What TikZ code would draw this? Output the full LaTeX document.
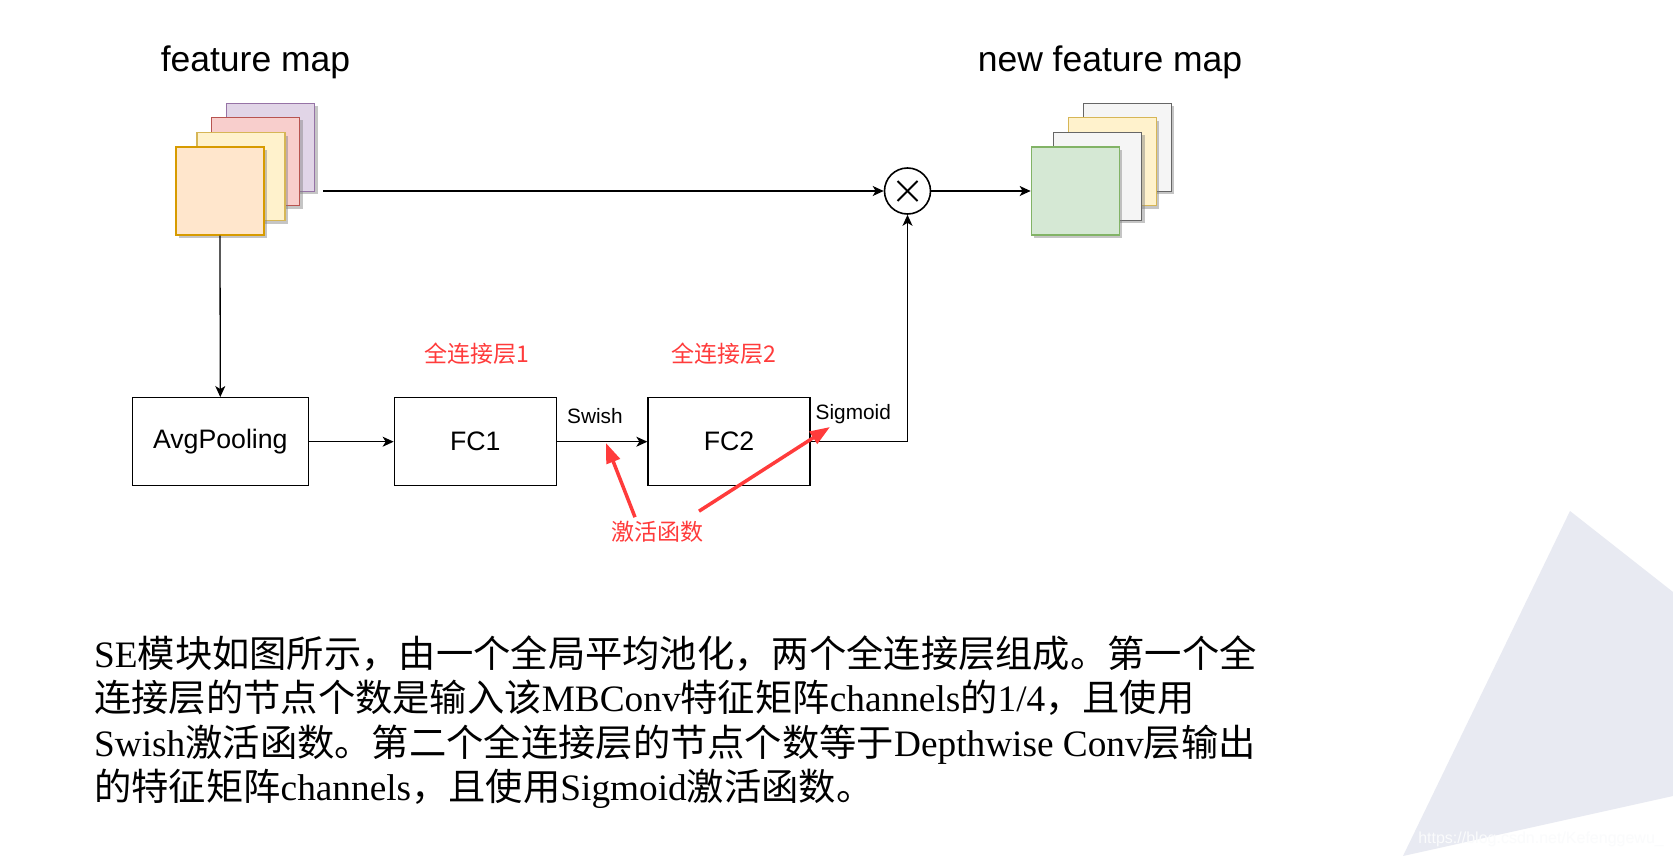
\documentclass[tikz,border=0pt]{standalone}
\usepackage{fontspec}
\setmainfont{Liberation Serif}
\newfontfamily\sansf{Liberation Sans}
\newfontfamily\cjk{Noto Sans CJK SC}
\usetikzlibrary{arrows.meta,positioning,calc,shadows}
\definecolor{orangefill}{HTML}{FFE6CC}
\definecolor{orangeline}{HTML}{D79B00}
\definecolor{yellowfill}{HTML}{FFF2CC}
\definecolor{yellowline}{HTML}{D6B656}
\definecolor{redfill}{HTML}{F8CECC}
\definecolor{redline}{HTML}{B85450}
\definecolor{purplefill}{HTML}{E1D5E7}
\definecolor{purpleline}{HTML}{9673A6}
\definecolor{greenfill}{HTML}{D5E8D4}
\definecolor{greenline}{HTML}{82B366}
\definecolor{greyfill}{HTML}{F5F5F5}
\definecolor{greyline}{HTML}{666666}
\definecolor{annot}{HTML}{FF3B3B}
\definecolor{wmark}{HTML}{E8EAF2}
\newcommand{\zhtext}[1]{{\cjk #1}}

\begin{document}
\begin{tikzpicture}[x=1pt,y=-1pt,
 fmap/.style={draw,line width=1.3pt,minimum size=88pt,inner sep=0pt,
  drop shadow={shadow xshift=3pt,shadow yshift=-3pt,fill=gray,opacity=.45}},
 layer/.style={draw,line width=1.3pt,minimum width=176pt,minimum height=88pt,font=\sansf\fontsize{26.7}{32}\selectfont},
 fclayer/.style={layer,minimum width=162pt},
 title/.style={font=\sansf\fontsize{35.5}{42}\selectfont},
 actname/.style={font=\sansf\fontsize{20.8}{25}\selectfont,inner sep=2pt},
 redlab/.style={text=annot,font=\cjk\fontsize{23}{28}\selectfont,inner sep=2pt},
 body/.style={anchor=base west,inner sep=0pt,font=\fontsize{37.3}{45}\selectfont},
 arr/.style={-{Stealth[length=11pt,width=10pt,inset=3pt]},line width=1.3pt},
 annarr/.style={annot,line width=3.5pt,-{Triangle[length=20pt,width=14pt]}}]
\useasboundingbox (0,0) rectangle (1673,856);
\fill[white] (0,0) rectangle (1673,856);
% watermark corner
\fill[wmark] (1570,511) -- (1673,592) -- (1673,796) -- (1403,856) -- cycle;
\node[anchor=base east,inner sep=0pt,text=white!80!wmark,font=\sansf\fontsize{16}{18}\selectfont] (wm) at (1664,843) {https://blog.csdn.net/Kefenggewu\_};

% input feature map
\node[title,anchor=base] (fmtitle) at (255.5,71.7) {feature map};
\node[fmap,fill=purplefill,draw=purpleline] (fm4) at (270.5,147.2) {};
\node[fmap,fill=redfill,draw=redline] (fm3) at (255.5,161.5) {};
\node[fmap,fill=yellowfill,draw=yellowline] (fm2) at (241,176.7) {};
\node[fmap,fill=orangefill,draw=orangeline] (fm1) at (220,191) {};

% output feature map
\node[title,anchor=base] (nfmtitle) at (1110,71.7) {new feature map};
\node[fmap,fill=greyfill,draw=greyline] (nfm4) at (1127.2,147.2) {};
\node[fmap,fill=yellowfill,draw=yellowline] (nfm3) at (1112.3,161.7) {};
\node[fmap,fill=greyfill,draw=greyline] (nfm2) at (1097.7,176.3) {};
\node[fmap,fill=greenfill,draw=greenline] (nfm1) at (1075.3,191) {};

% multiply
\node[circle,draw,line width=1.6pt,minimum size=46pt,inner sep=0pt] (mul) at (907.5,191) {};
\draw[line width=1.8pt] ($(mul.center)+(-10,-10)$) -- ($(mul.center)+(10,10)$);
\draw[line width=1.8pt] ($(mul.center)+(-10,10)$) -- ($(mul.center)+(10,-10)$);

% SE branch
\node[layer] (avg) at (220.3,441.7) {AvgPooling};
\node[fclayer] (fc1) at (475.3,441.7) {FC1};
\node[fclayer] (fc2) at (729,441.7) {FC2};
\node[redlab] (fc1lab) at (477,354) {全连接层1};
\node[redlab] (fc2lab) at (724,354) {全连接层2};

\coordinate (fmout) at (323,191);
\draw[arr] (fmout) -- (mul);
\draw[arr] (mul) -- (nfm1);
\draw[arr] (fm1.south) -- (avg.north);
\draw[arr] (avg) -- (fc1);
\draw[arr] (fc1) -- node[actname,above=15pt,pos=.42] (swish) {Swish} (fc2);
\draw[arr] (fc2.east) -| node[actname,above=15pt,pos=.22] (sigm) {Sigmoid} (mul.south);

% activation note
\node[redlab] (act) at (657,532) {激活函数};
\coordinate (tipswish) at (606,443);
\coordinate (tipsigm) at (830,427);
\draw[annarr] ($(act.north)+(-22,-2)$) -- (tipswish);
\draw[annarr] ($(act.north)+(42,-8)$) -- (tipsigm);

% description
\node[body] (txt1) at (94,667) {SE\zhtext{模块如图所示，由一个全局平均池化，两个全连接层组成。第一个全}};
\node[body] (txt2) at (94,711.5) {\zhtext{连接层的节点个数是输入该}MBConv\zhtext{特征矩阵}channels\zhtext{的}1/4\zhtext{，且使用}};
\node[body] (txt3) at (94,756) {Swish\zhtext{激活函数。第二个全连接层的节点个数等于}Depthwise Conv\zhtext{层输出}};
\node[body] (txt4) at (94,800) {\zhtext{的特征矩阵}channels\zhtext{，且使用}Sigmoid\zhtext{激活函数。}};
\end{tikzpicture}
\end{document}
